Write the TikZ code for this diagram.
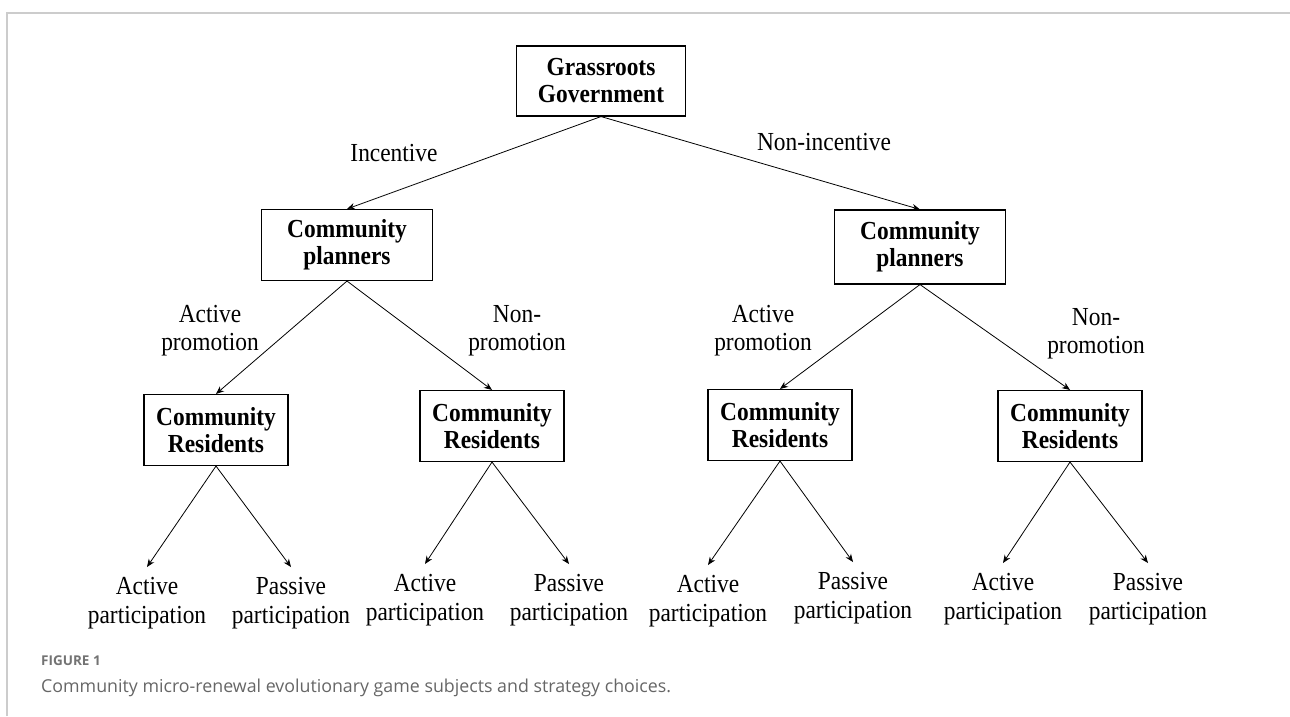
\documentclass[tikz,border=0pt]{standalone}
\usepackage{fontspec}
\setmainfont{Liberation Serif}[FakeStretch=0.9]
\newfontfamily\capfont{Open Sans}
\usetikzlibrary{arrows.meta}
\tikzset{arr/.style = {line width=0.8pt, -{Stealth[length=8pt,width=6.5pt]}}}
\tikzset{actor/.style = {draw, line width=1.1pt, align=center, inner sep=0pt, minimum height=70pt,
                         font=\fontsize{26}{27}\selectfont\bfseries}}
\tikzset{choice/.style = {align=center, inner sep=0pt, font=\fontsize{26}{28}\selectfont}}
\tikzset{outcome/.style = {align=center, anchor=north, inner xsep=0pt, inner ysep=10pt,
                           font=\fontsize{26}{29}\selectfont}}

\begin{document}
\begin{tikzpicture}[x=1pt,y=-1pt]
\useasboundingbox (0,0) rectangle (1290,716);
\draw[black!20, line width=1.5pt] (7,716) -- (7,13) -- (1290,13);
\node[actor, minimum width=169pt] (gov) at (601,81) {Grassroots\\Government};
\node[actor, minimum width=171pt, minimum height=71pt] (plan1) at (347,245) {Community\\planners};
\node[actor, minimum width=171pt, minimum height=74pt] (plan2) at (920,247) {Community\\planners};
\node[actor, minimum width=144pt, minimum height=71pt] (res1) at (216,430) {Community\\Residents};
\node[actor, minimum width=144pt, minimum height=71pt] (res2) at (492,426) {Community\\Residents};
\node[actor, minimum width=144pt, minimum height=71pt] (res3) at (780,425) {Community\\Residents};
\node[actor, minimum width=144pt, minimum height=71pt] (res4) at (1070,426) {Community\\Residents};
\draw [arr] (gov.south) -- (plan1.north);
\draw [arr] (gov.south) -- (plan2.north);
\draw [arr] (plan1.south) -- (res1.north);
\draw [arr] (plan1.south) -- (res2.north);
\draw [arr] (plan2.south) -- (res3.north);
\draw [arr] (plan2.south) -- (res4.north);
\node[choice] (inc) at (394,153) {Incentive};
\node[choice] (noinc) at (824,142) {Non-incentive};
\node[choice] (prom1) at (210,331) {Active\\promotion};
\node[choice] (noprom1) at (517,331) {Non-\\promotion};
\node[choice] (prom2) at (763,331) {Active\\promotion};
\node[choice] (noprom2) at (1096,334) {Non-\\promotion};
\node[outcome] (act1) at (147,567) {Active\\participation};
\node[outcome] (pas1) at (291,567) {Passive\\participation};
\node[outcome] (act2) at (425,564) {Active\\participation};
\node[outcome] (pas2) at (569,564) {Passive\\participation};
\node[outcome] (act3) at (708,565) {Active\\participation};
\node[outcome] (pas3) at (853,562) {Passive\\participation};
\node[outcome] (act4) at (1003,563) {Active\\participation};
\node[outcome] (pas4) at (1148,563) {Passive\\participation};
\draw [arr] (res1.south) -- (act1.north);
\draw [arr] (res1.south) -- (pas1.north);
\draw [arr] (res2.south) -- (act2.north);
\draw [arr] (res2.south) -- (pas2.north);
\draw [arr] (res3.south) -- (act3.north);
\draw [arr] (res3.south) -- (pas3.north);
\draw [arr] (res4.south) -- (act4.north);
\draw [arr] (res4.south) -- (pas4.north);
\node[anchor=west, inner sep=0pt, text=black!55, font=\capfont\fontsize{13.5}{16}\selectfont\bfseries] (fig) at (41,661) {FIGURE 1};
\node[anchor=west, inner sep=0pt, text=black!60, font=\capfont\fontsize{17.8}{22}\selectfont] (cap) at (41,688) {Community micro-renewal evolutionary game subjects and strategy choices.};
\end{tikzpicture}
\end{document}
